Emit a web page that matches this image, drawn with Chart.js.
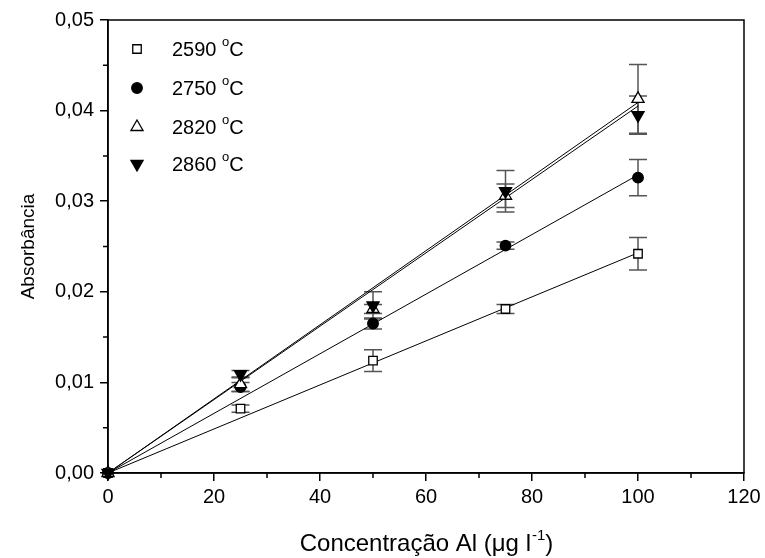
<!DOCTYPE html>
<html>
<head>
<meta charset="utf-8">
<script src="https://cdn.jsdelivr.net/npm/chart.js@4.4.1/dist/chart.umd.min.js"></script>
<style>
  html, body { margin: 0; padding: 0; background: #fff; }
  #wrap { width: 765px; height: 558px; }
</style>
</head>
<body>
<div id="wrap"><canvas id="chart" width="765" height="558"></canvas></div>
<script>
// concentration (ug/l) and absorbance
var conc = [0, 25, 50, 75, 100];
var abs2590 = [0, 0.0071, 0.0124, 0.0181, 0.0242];
var err2590 = [0, 0.0004, 0.0012, 0.0005, 0.0018];
var abs2750 = [0, 0.0095, 0.0165, 0.0251, 0.0326];
var err2750 = [0, 0.0005, 0.0006, 0.0004, 0.0020];
var abs2820 = [0, 0.0098, 0.0181, 0.0306, 0.0413];
var err2820 = [0, 0.0008, 0.0005, 0.0013, 0.0038];
var abs2860 = [0, 0.0109, 0.0185, 0.0311, 0.0395];
var err2860 = [0, 0.0004, 0.0015, 0.0023, 0.0021];

// fitted lines, values at x = 0 and x = 100
var fitX = [0, 100];
var fit2590 = [0, 0.0243];
var fit2750 = [0, 0.0329];
var fit2820 = [0, 0.0409];
var fit2860 = [0, 0.0405];

var seriesNames = ['2590', '2750', '2820', '2860'];

var FONT = '"Liberation Sans", Arial, sans-serif';

function pts(xs, ys) {
    var out = [];
    for (var i = 0; i < xs.length; i++) out.push({x: xs[i], y: ys[i]});
    return out;
}

var markers = [
    {style: 'rect', radius: 6, fill: '#fff', rot: 0},
    {style: 'circle', radius: 5.3, fill: '#000', rot: 0},
    {style: 'triangle', radius: 7, fill: '#fff', rot: 0},
    {style: 'triangle', radius: 7, fill: '#000', rot: 180}
];
var values = [abs2590, abs2750, abs2820, abs2860];
var errors = [err2590, err2750, err2820, err2860];
var fits = [fit2590, fit2750, fit2820, fit2860];

var datasets = [];
for (var s = 0; s < 4; s++) {
    datasets.push({
        label: seriesNames[s] + ' °C',
        data: pts(conc, values[s]),
        showLine: false,
        pointStyle: markers[s].style,
        pointRotation: markers[s].rot,
        pointRadius: markers[s].radius,
        pointBackgroundColor: markers[s].fill,
        pointBorderColor: '#000',
        pointBorderWidth: 1.3,
        clip: false,
        order: 4 - s,
        errs: errors[s]
    });
}
for (var f = 0; f < 4; f++) {
    datasets.push({
        label: 'fit ' + seriesNames[f],
        data: pts(fitX, fits[f]),
        showLine: true,
        borderColor: '#000',
        borderWidth: 1,
        pointRadius: 0,
        fill: false,
        order: 10,
        isFit: true
    });
}

// my own marker drawer for the legend
function drawMarker(ctx, m, x, y) {
    ctx.save();
    ctx.translate(x, y);
    ctx.rotate(m.rot * Math.PI / 180);
    ctx.beginPath();
    var r = m.radius;
    if (m.style == 'rect') {
        var h = r * Math.SQRT1_2;
        ctx.rect(-h, -h, 2 * h, 2 * h);
    } else if (m.style == 'circle') {
        ctx.arc(0, 0, r, 0, Math.PI * 2);
    } else {
        ctx.moveTo(0, -r);
        ctx.lineTo(r * Math.sin(Math.PI / 3), r * 0.5);
        ctx.lineTo(-r * Math.sin(Math.PI / 3), r * 0.5);
        ctx.closePath();
    }
    ctx.fillStyle = m.fill;
    ctx.fill();
    ctx.lineWidth = 1.3;
    ctx.strokeStyle = '#000';
    ctx.stroke();
    ctx.restore();
}

var errorBars = {
    id: 'errorBars',
    beforeDatasetsDraw: function (chart) {
        var ctx = chart.ctx;
        var xs = chart.scales.x, ys = chart.scales.y;
        ctx.save();
        ctx.strokeStyle = '#555';
        ctx.lineWidth = 1.5;
        chart.data.datasets.forEach(function (ds) {
            if (!ds.errs) return;
            ds.data.forEach(function (p, i) {
                var e = ds.errs[i];
                if (!e) return;
                var px = xs.getPixelForValue(p.x);
                var top = ys.getPixelForValue(p.y + e);
                var bot = ys.getPixelForValue(p.y - e);
                ctx.beginPath();
                ctx.moveTo(px, top); ctx.lineTo(px, bot);
                ctx.moveTo(px - 9, top); ctx.lineTo(px + 9, top);
                ctx.moveTo(px - 9, bot); ctx.lineTo(px + 9, bot);
                ctx.stroke();
            });
        });
        ctx.restore();
    }
};

var frameAndText = {
    id: 'frameAndText',
    afterDraw: function (chart) {
        var ctx = chart.ctx;
        var a = chart.chartArea;
        var xs = chart.scales.x, ys = chart.scales.y;
        ctx.save();
        // box
        ctx.strokeStyle = '#000';
        ctx.lineWidth = 1.5;
        ctx.strokeRect(a.left, a.top, a.right - a.left, a.bottom - a.top);
        // minor ticks
        ctx.beginPath();
        for (var v = 10; v < 120; v += 20) {
            var px = xs.getPixelForValue(v);
            ctx.moveTo(px, a.bottom); ctx.lineTo(px, a.bottom + 5);
        }
        for (var k = 0; k < 5; k++) {
            var py = ys.getPixelForValue(0.005 + k * 0.01);
            ctx.moveTo(a.left, py); ctx.lineTo(a.left - 5, py);
        }
        ctx.stroke();

        // axis titles
        ctx.fillStyle = '#000';
        ctx.textBaseline = 'alphabetic';
        var t1 = 'Concentração Al (μg l';
        var sup = '-1';
        var t2 = ')';
        ctx.font = '24px ' + FONT;
        var w1 = ctx.measureText(t1).width;
        var w3 = ctx.measureText(t2).width;
        ctx.font = '15px ' + FONT;
        var w2 = ctx.measureText(sup).width;
        var cx = (a.left + a.right) / 2;
        var sx = cx - (w1 + w2 + w3) / 2;
        var by = 551;
        ctx.font = '24px ' + FONT;
        ctx.textAlign = 'left';
        ctx.fillText(t1, sx, by);
        ctx.font = '15px ' + FONT;
        ctx.fillText(sup, sx + w1 + 1, by - 11);
        ctx.font = '24px ' + FONT;
        ctx.fillText(t2, sx + w1 + w2 + 1, by);

        ctx.save();
        ctx.translate(34, (a.top + a.bottom) / 2);
        ctx.rotate(-Math.PI / 2);
        ctx.textAlign = 'center';
        ctx.font = '19px ' + FONT;
        ctx.fillText('Absorbância', 0, 0);
        ctx.restore();

        // legend
        var rowY = [49, 88, 127, 164];
        for (var s = 0; s < 4; s++) {
            drawMarker(ctx, markers[s], 137, rowY[s]);
            ctx.font = '20px ' + FONT;
            ctx.textAlign = 'left';
            ctx.textBaseline = 'middle';
            var lx = 172;
            var txt = seriesNames[s] + ' ';
            ctx.fillText(txt, lx, rowY[s] + 1);
            var tw = ctx.measureText(txt).width;
            ctx.font = '13px ' + FONT;
            ctx.fillText('o', lx + tw, rowY[s] - 7);
            var ow = ctx.measureText('o').width;
            ctx.font = '20px ' + FONT;
            ctx.fillText('C', lx + tw + ow, rowY[s] + 1);
        }
        ctx.restore();
    }
};

var ctx = document.getElementById('chart').getContext('2d');
var chart = new Chart(ctx, {
    type: 'scatter',
    data: { datasets: datasets },
    options: {
        responsive: false,
        animation: false,
        events: [],
        layout: { padding: { top: 20, right: 21, left: 0, bottom: 0 } },
        plugins: {
            legend: { display: false },
            tooltip: { enabled: false }
        },
        scales: {
            x: {
                type: 'linear',
                min: 0, max: 120,
                afterFit: function (scale) { scale.height = 85; },
                grid: { drawOnChartArea: false, drawTicks: true, tickLength: 8, color: '#000', lineWidth: 1.5 },
                border: { display: true, color: '#000', width: 1.5 },
                ticks: { stepSize: 20, color: '#000', padding: 4, maxRotation: 0,
                    font: { family: FONT, size: 20 } }
            },
            y: {
                type: 'linear',
                min: 0, max: 0.05,
                afterFit: function (scale) { scale.width = 108; },
                grid: { drawOnChartArea: false, drawTicks: true, tickLength: 8, color: '#000', lineWidth: 1.5 },
                border: { display: true, color: '#000', width: 1.5 },
                ticks: { stepSize: 0.01, color: '#000', padding: 6,
                    font: { family: FONT, size: 20 },
                    callback: function (v) { return v.toFixed(2).replace('.', ','); } }
            }
        }
    },
    plugins: [errorBars, frameAndText]
});
</script>
</body>
</html>
